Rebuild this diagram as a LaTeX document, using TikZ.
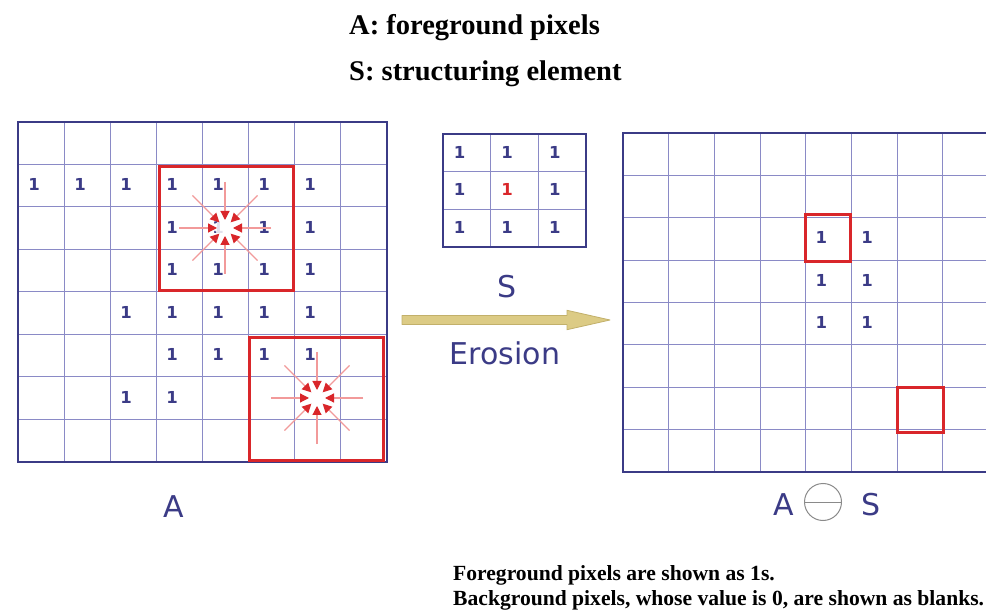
\documentclass[tikz,border=0pt]{standalone}
\usepackage{fontspec}
\setmainfont{Liberation Serif}
\newfontfamily\labelfont{DejaVu Sans}
\usetikzlibrary{arrows.meta,positioning}
\definecolor{Navy}{HTML}{3B3B86}
\definecolor{GridLine}{HTML}{8A8AC6}
\definecolor{ProbeRed}{HTML}{D9262A}
\definecolor{ProbePink}{HTML}{F29A9A}
\definecolor{Khaki}{HTML}{DCCB85}
\definecolor{KhakiEdge}{HTML}{C2B06A}
\definecolor{OmGrey}{HTML}{8A8A8A}

\begin{document}
\begin{tikzpicture}[
  x=1pt,y=-1pt,
  frame/.style={draw=Navy,line width=2.8pt},
  gridline/.style={draw=GridLine,line width=1pt},
  window/.style={draw=ProbeRed,line width=3pt},
  pix/.style={text=Navy,font=\labelfont\bfseries\fontsize{16.5}{16.5}\selectfont,inner sep=0pt},
  probe/.style={draw=ProbePink,line width=1.2pt,-{Triangle[length=9pt,width=9pt,color=ProbeRed]}},
  bigarrow/.style={draw=KhakiEdge,fill=Khaki,line width=0.8pt,line join=round},
  biglabel/.style={text=Navy,font=\labelfont\fontsize{30}{30}\selectfont,inner sep=0pt,anchor=base},
  key/.style={font=\bfseries\fontsize{28.5}{28.5}\selectfont,inner sep=0pt,anchor=base west},
  note/.style={font=\bfseries\fontsize{21.6}{21.6}\selectfont,inner sep=0pt,anchor=base west}
]
\clip (0,0) rectangle (986,612);
\fill[white] (0,0) rectangle (986,612);

% legend on top
\node[key] (keyA) at (349,35) {A: foreground pixels};
\node[key] (keyS) at (349,81) {S: structuring element};

% image A
\foreach \i in {1,...,7} \draw[gridline] ({18+46*\i},122) -- ({18+46*\i},462);
\foreach \i in {1,...,7} \draw[gridline] (18,{122+42.5*\i}) -- (387,{122+42.5*\i});
\draw[frame] (18,122) rectangle (387,462);
\foreach \r/\c in {1/0,1/1,1/2,1/3,1/4,1/5,1/6,2/3,2/4,2/5,2/6,3/3,3/4,3/5,3/6,
                   4/2,4/3,4/4,4/5,4/6,5/3,5/4,5/5,5/6,6/2,6/3}
  \node[pix] (a\r\c) at ({18+46*\c+16},{122+42.5*\r+20}) {1};
\draw[window] (159,167) rectangle (293,291);
\draw[window] (249,338) rectangle (383,460);

% probing the two windows
\coordinate (fit) at (225,228);
\coordinate (miss) at (317,398);
\fill[white,opacity=.85] (fit) circle[radius=10];
\fill[white,opacity=.85] (miss) circle[radius=10];
\foreach \a in {0,45,...,315} {
  \draw[probe] ([shift={(\a:46)}]fit) -- ([shift={(\a:8)}]fit);
  \draw[probe] ([shift={(\a:46)}]miss) -- ([shift={(\a:8)}]miss);
}
\node[biglabel] (labA) at (174,517) {A};

% structuring element S
\foreach \i in {1,2} \draw[gridline] ({443+47.7*\i},134) -- ({443+47.7*\i},247);
\foreach \i in {1,2} \draw[gridline] (443,{134+37.7*\i}) -- (586,{134+37.7*\i});
\draw[frame] (443,134) rectangle (586,247);
\foreach \r/\c in {0/0,0/1,0/2,1/0,1/2,2/0,2/1,2/2}
  \node[pix] (s\r\c) at ({443+47.7*\c+16.5},{134+37.7*\r+18}) {1};
\node[pix,text=ProbeRed] (s11) at ({443+47.7+16.5},{134+37.7+18}) {1};
\node[biglabel] (labS) at (507,298) {S};

% erosion arrow
\coordinate (eroL) at (402,320);
\coordinate (eroR) at (610,320);
\draw[bigarrow] ([shift={(0,-4.5)}]eroL) -- ([shift={(-43,-4.5)}]eroR)
  -- ([shift={(-43,-9.7)}]eroR) -- (eroR) -- ([shift={(-43,9.7)}]eroR)
  -- ([shift={(-43,4.5)}]eroR) -- ([shift={(0,4.5)}]eroL) -- cycle;
\node[biglabel] (labEro) at (505,365) {Erosion};

% result A eroded by S
\foreach \i in {1,...,7} \draw[gridline] ({623+45.7*\i},133) -- ({623+45.7*\i},472);
\foreach \i in {1,...,7} \draw[gridline] (623,{133+42.4*\i}) -- (990,{133+42.4*\i});
\draw[frame] (623,133) rectangle (989,472);
\foreach \r/\c in {2/4,2/5,3/4,3/5,4/4,4/5}
  \node[pix] (r\r\c) at ({623+45.7*\c+15.5},{133+42.4*\r+20}) {1};
\draw[window] (805,215) rectangle (850,262);
\draw[window] (897,388) rectangle (943,433);
\node[biglabel] (resA) at (784,515) {A};
\node[draw=OmGrey,line width=1pt,circle,minimum size=37pt,inner sep=0pt] (ominus) at (823,502) {};
\draw[OmGrey,line width=1pt] (ominus.west) -- (ominus.east);
\node[biglabel] (resS) at (871,515) {S};

% notes
\node[note] (note1) at (453,580) {Foreground pixels are shown as 1s.};
\node[note] (note2) at (453,605) {Background pixels, whose value is 0, are shown as blanks.};
\end{tikzpicture}
\end{document}
